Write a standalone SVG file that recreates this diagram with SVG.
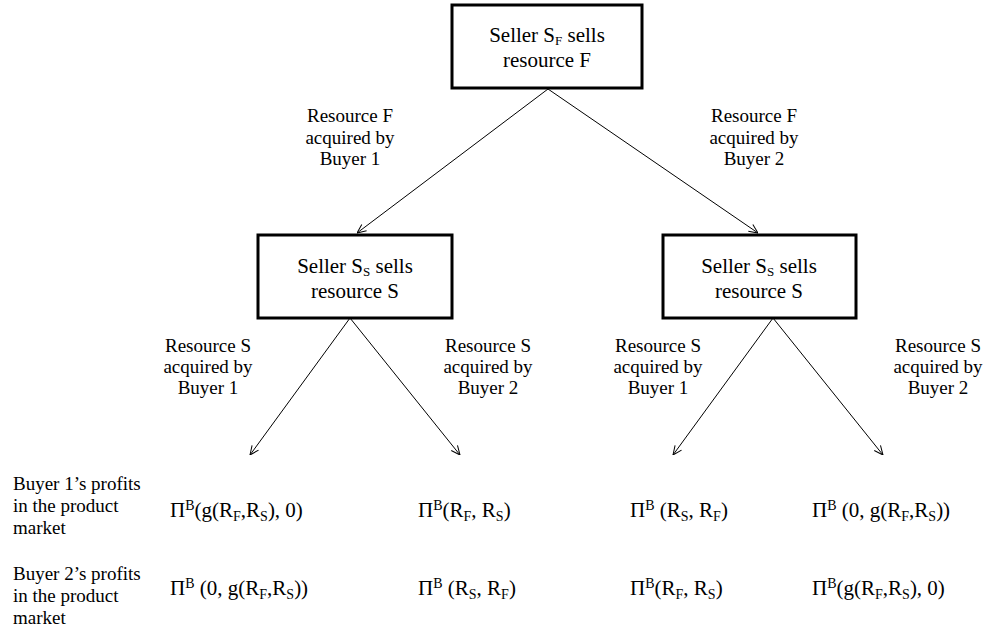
<svg xmlns="http://www.w3.org/2000/svg" width="987" height="632" viewBox="0 0 987 632">
<defs>
<style>
text{font-family:"Liberation Serif","Times New Roman",serif;fill:#000}
.box{fill:#fff;stroke:#000;stroke-width:3}
.bt{font-size:21px;text-anchor:middle}
.lb{font-size:19px;text-anchor:middle}
.rl{font-size:19px}
.pf{font-size:21px}
.conn line{stroke:#000;stroke-width:1;marker-end:url(#arr)}
</style>
<marker id="arr" viewBox="0 0 10 10" refX="10" refY="5" markerWidth="10" markerHeight="10" markerUnits="userSpaceOnUse" orient="auto">
<path d="M1,1 L10,5 L1,9" fill="none" stroke="#000" stroke-width="1"/>
</marker>
</defs>
<rect width="987" height="632" fill="#fff"/>

<g id="connectors" class="conn">
<line x1="548" y1="89" x2="357" y2="233"/>
<line x1="548" y1="89" x2="758" y2="233"/>
<line x1="350" y1="318" x2="250" y2="455"/>
<line x1="350" y1="318" x2="460" y2="455"/>
<line x1="773" y1="318" x2="673" y2="455"/>
<line x1="773" y1="318" x2="883" y2="455"/>
</g>

<g id="node-top">
<rect class="box" x="452" y="5" width="190" height="83"/>
<text class="bt" x="547" y="42">Seller S<tspan font-size="13" dy="3">F</tspan><tspan dy="-3"> sells</tspan></text>
<text class="bt" x="547" y="67">resource F</text>
</g>

<g id="node-left">
<rect class="box" x="258" y="235" width="194" height="83"/>
<text class="bt" x="355" y="273">Seller S<tspan font-size="13" dy="3">S</tspan><tspan dy="-3"> sells</tspan></text>
<text class="bt" x="355" y="298">resource S</text>
</g>

<g id="node-right">
<rect class="box" x="663" y="235" width="193" height="83"/>
<text class="bt" x="759" y="273">Seller S<tspan font-size="13" dy="3">S</tspan><tspan dy="-3"> sells</tspan></text>
<text class="bt" x="759" y="298">resource S</text>
</g>

<g id="labels">
<text class="lb" x="350" y="122">Resource F</text>
<text class="lb" x="350" y="144">acquired by</text>
<text class="lb" x="350" y="165">Buyer 1</text>

<text class="lb" x="754" y="122">Resource F</text>
<text class="lb" x="754" y="144">acquired by</text>
<text class="lb" x="754" y="165">Buyer 2</text>

<text class="lb" x="208" y="352">Resource S</text>
<text class="lb" x="208" y="373">acquired by</text>
<text class="lb" x="208" y="394">Buyer 1</text>

<text class="lb" x="488" y="352">Resource S</text>
<text class="lb" x="488" y="373">acquired by</text>
<text class="lb" x="488" y="394">Buyer 2</text>

<text class="lb" x="658" y="352">Resource S</text>
<text class="lb" x="658" y="373">acquired by</text>
<text class="lb" x="658" y="394">Buyer 1</text>

<text class="lb" x="938" y="352">Resource S</text>
<text class="lb" x="938" y="373">acquired by</text>
<text class="lb" x="938" y="394">Buyer 2</text>
</g>

<g id="row-labels">
<text class="rl" x="13" y="490">Buyer 1’s profits</text>
<text class="rl" x="13" y="512">in the product</text>
<text class="rl" x="13" y="534">market</text>
<text class="rl" x="13" y="580">Buyer 2’s profits</text>
<text class="rl" x="13" y="602">in the product</text>
<text class="rl" x="13" y="624">market</text>
</g>

<g id="payoffs-row1" class="pf">
<text x="170" y="517">Π<tspan font-size="14" dy="-7">B</tspan><tspan dy="7">(g(R</tspan><tspan font-size="14" dy="4">F</tspan><tspan dy="-4">,R</tspan><tspan font-size="14" dy="4">S</tspan><tspan dy="-4">), 0)</tspan></text>
<text x="418" y="517">Π<tspan font-size="14" dy="-7">B</tspan><tspan dy="7">(R</tspan><tspan font-size="14" dy="4">F</tspan><tspan dy="-4">, R</tspan><tspan font-size="14" dy="4">S</tspan><tspan dy="-4">)</tspan></text>
<text x="630" y="517">Π<tspan font-size="14" dy="-7">B</tspan><tspan dy="7"> (R</tspan><tspan font-size="14" dy="4">S</tspan><tspan dy="-4">, R</tspan><tspan font-size="14" dy="4">F</tspan><tspan dy="-4">)</tspan></text>
<text x="812" y="517">Π<tspan font-size="14" dy="-7">B</tspan><tspan dy="7"> (0, g(R</tspan><tspan font-size="14" dy="4">F</tspan><tspan dy="-4">,R</tspan><tspan font-size="14" dy="4">S</tspan><tspan dy="-4">))</tspan></text>
</g>

<g id="payoffs-row2" class="pf">
<text x="170" y="595">Π<tspan font-size="14" dy="-7">B</tspan><tspan dy="7"> (0, g(R</tspan><tspan font-size="14" dy="4">F</tspan><tspan dy="-4">,R</tspan><tspan font-size="14" dy="4">S</tspan><tspan dy="-4">))</tspan></text>
<text x="418" y="595">Π<tspan font-size="14" dy="-7">B</tspan><tspan dy="7"> (R</tspan><tspan font-size="14" dy="4">S</tspan><tspan dy="-4">, R</tspan><tspan font-size="14" dy="4">F</tspan><tspan dy="-4">)</tspan></text>
<text x="630" y="595">Π<tspan font-size="14" dy="-7">B</tspan><tspan dy="7">(R</tspan><tspan font-size="14" dy="4">F</tspan><tspan dy="-4">, R</tspan><tspan font-size="14" dy="4">S</tspan><tspan dy="-4">)</tspan></text>
<text x="812" y="595">Π<tspan font-size="14" dy="-7">B</tspan><tspan dy="7">(g(R</tspan><tspan font-size="14" dy="4">F</tspan><tspan dy="-4">,R</tspan><tspan font-size="14" dy="4">S</tspan><tspan dy="-4">), 0)</tspan></text>
</g>
</svg>
